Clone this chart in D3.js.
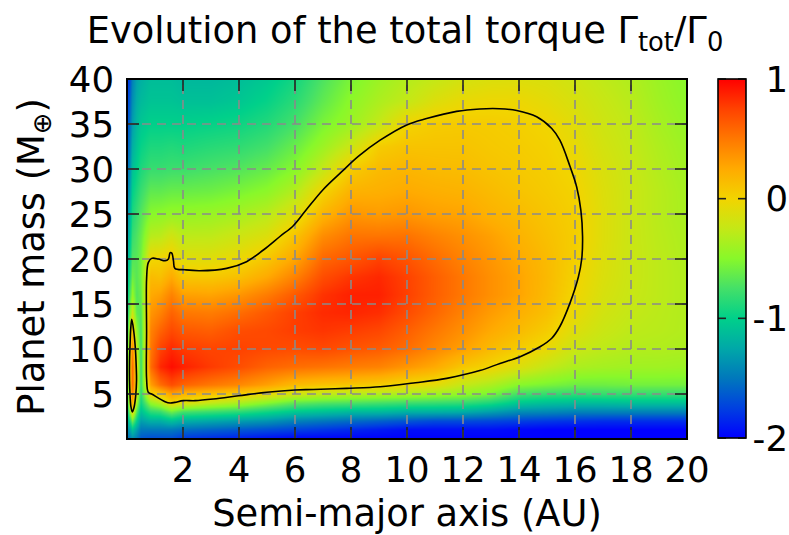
<!DOCTYPE html>
<html>
<head>
<meta charset="utf-8">
<script src="https://cdn.jsdelivr.net/npm/d3@7"></script>
<style>
  body { margin: 0; background: #fff; }
  svg { display: block; }
  text { font-family: "DejaVu Sans", sans-serif; fill: #000; }
</style>
</head>
<body>
<svg id="chart" width="789" height="535"></svg>
<script>
// Grid of semi-major axis values (AU) at which the torque is sampled
const semiMajorAxis = [0, 0.1, 0.2, 0.35, 0.5, 0.85, 1.2, 1.6, 2, 3, 4, 5, 6, 7, 8, 9, 10, 11, 12, 13, 14, 15, 16, 17, 18, 19, 20];
// Grid of planet masses (Earth masses)
const planetMass = [0, 1, 2, 3, 4, 5, 6, 8, 10, 12, 14, 16, 18, 20, 22.5, 25, 27.5, 30, 32.5, 35, 37.5, 40];
// Normalised total torque, one column per semi-major axis, ordered by planet mass
const torque = [
  [-1.6,-1.45,-1.3,-1.15,-1.05,-1.02,-1.0,-1.0,-1.0,-1.05,-1.1,-1.15,-1.22,-1.3,-1.4,-1.48,-1.55,-1.62,-1.7,-1.75,-1.8,-1.85],
  [-1.5,-1.3,-0.95,-0.55,-0.2,-0.05,0.0,0.02,-0.02,-0.25,-0.55,-0.75,-0.9,-1.0,-1.1,-1.2,-1.3,-1.4,-1.48,-1.55,-1.62,-1.7],
  [-1.4,-1.1,-0.6,-0.02,0.25,0.45,0.55,0.55,0.4,0.15,-0.2,-0.45,-0.6,-0.7,-0.8,-0.9,-1.0,-1.1,-1.2,-1.3,-1.38,-1.45],
  [-1.5,-1.3,-1.0,-0.7,-0.4,-0.2,-0.08,-0.08,-0.25,-0.45,-0.65,-0.7,-0.68,-0.68,-0.72,-0.8,-0.9,-1.0,-1.08,-1.15,-1.22,-1.28],
  [-1.65,-1.5,-1.3,-1.1,-0.95,-0.85,-0.8,-0.8,-0.78,-0.75,-0.7,-0.62,-0.58,-0.58,-0.62,-0.7,-0.8,-0.9,-0.98,-1.06,-1.14,-1.2],
  [-1.7,-1.5,-1.2,-0.85,-0.45,0.0,0.3,0.55,0.5,0.45,0.35,0.25,0.15,-0.02,-0.3,-0.5,-0.65,-0.8,-0.9,-1.0,-1.08,-1.12],
  [-1.7,-1.5,-1.2,-0.8,-0.3,0.1,0.55,0.85,0.75,0.6,0.45,0.3,0.12,0.0,-0.28,-0.48,-0.65,-0.8,-0.9,-1.0,-1.08,-1.12],
  [-1.7,-1.5,-1.1,-0.6,0.0,0.3,0.7,0.95,0.85,0.72,0.6,0.45,0.25,0.05,-0.18,-0.45,-0.62,-0.78,-0.88,-1.0,-1.08,-1.12],
  [-1.8,-1.55,-1.2,-0.75,-0.1,0.2,0.6,0.88,0.78,0.65,0.5,0.3,0.08,-0.1,-0.28,-0.45,-0.62,-0.78,-0.9,-1.0,-1.1,-1.15],
  [-1.85,-1.6,-1.25,-0.8,-0.25,0.12,0.5,0.78,0.74,0.62,0.48,0.28,0.07,-0.1,-0.27,-0.43,-0.6,-0.74,-0.86,-0.98,-1.1,-1.15],
  [-1.9,-1.65,-1.3,-0.85,-0.35,0.05,0.42,0.7,0.75,0.7,0.55,0.35,0.12,-0.04,-0.2,-0.38,-0.55,-0.7,-0.83,-0.95,-1.06,-1.12],
  [-1.95,-1.7,-1.35,-0.95,-0.5,-0.05,0.3,0.6,0.72,0.72,0.65,0.48,0.25,0.08,-0.12,-0.3,-0.48,-0.63,-0.76,-0.88,-0.98,-1.05],
  [-2.0,-1.75,-1.45,-1.05,-0.65,-0.18,0.15,0.55,0.7,0.77,0.76,0.64,0.45,0.27,0.1,-0.12,-0.32,-0.5,-0.62,-0.75,-0.85,-0.93],
  [-2.0,-1.8,-1.5,-1.1,-0.7,-0.25,0.1,0.52,0.72,0.8,0.84,0.81,0.7,0.58,0.4,0.18,0.0,-0.25,-0.42,-0.55,-0.65,-0.72],
  [-2.0,-1.85,-1.55,-1.15,-0.72,-0.3,0.08,0.48,0.67,0.77,0.86,0.88,0.8,0.66,0.52,0.35,0.2,0.05,-0.22,-0.42,-0.48,-0.55],
  [-2.0,-1.9,-1.6,-1.15,-0.75,-0.32,0.05,0.45,0.63,0.73,0.83,0.88,0.85,0.75,0.52,0.32,0.22,0.15,0.05,-0.25,-0.35,-0.42],
  [-2.0,-1.95,-1.65,-1.2,-0.78,-0.35,-0.03,0.35,0.55,0.62,0.71,0.76,0.75,0.67,0.53,0.35,0.25,0.18,0.1,0.0,-0.25,-0.32],
  [-2.0,-1.95,-1.7,-1.2,-0.8,-0.4,-0.08,0.25,0.42,0.5,0.58,0.62,0.62,0.56,0.45,0.3,0.22,0.15,0.1,0.05,-0.12,-0.25],
  [-2.0,-1.95,-1.7,-1.22,-0.82,-0.45,-0.25,0.08,0.3,0.38,0.45,0.5,0.5,0.45,0.38,0.28,0.2,0.14,0.1,0.06,-0.05,-0.17],
  [-2.0,-1.95,-1.72,-1.3,-0.9,-0.55,-0.35,0.0,0.15,0.25,0.32,0.38,0.38,0.35,0.3,0.2,0.15,0.1,0.07,0.05,-0.03,-0.13],
  [-2.0,-1.98,-1.75,-1.4,-1.05,-0.75,-0.5,-0.12,0.05,0.15,0.22,0.28,0.28,0.25,0.2,0.15,0.1,0.07,0.05,0.03,-0.03,-0.12],
  [-2.0,-2.0,-1.78,-1.42,-1.1,-0.8,-0.55,-0.25,-0.05,0.05,0.12,0.15,0.16,0.15,0.12,0.09,0.06,0.04,0.02,-0.01,-0.08,-0.14],
  [-2.0,-2.0,-1.8,-1.45,-1.12,-0.82,-0.6,-0.35,-0.22,-0.12,-0.05,-0.01,0.01,0.03,0.04,0.03,0.01,-0.02,-0.06,-0.1,-0.15,-0.2],
  [-2.0,-2.0,-1.82,-1.45,-1.12,-0.8,-0.6,-0.38,-0.28,-0.22,-0.18,-0.15,-0.13,-0.12,-0.11,-0.11,-0.12,-0.14,-0.17,-0.2,-0.23,-0.27],
  [-2.0,-2.0,-1.82,-1.45,-1.1,-0.8,-0.58,-0.4,-0.32,-0.28,-0.25,-0.23,-0.22,-0.22,-0.22,-0.22,-0.22,-0.23,-0.25,-0.27,-0.3,-0.33],
  [-2.0,-2.0,-1.82,-1.45,-1.1,-0.8,-0.58,-0.4,-0.33,-0.3,-0.29,-0.28,-0.28,-0.28,-0.29,-0.3,-0.3,-0.32,-0.34,-0.37,-0.4,-0.42],
  [-2.0,-2.0,-1.82,-1.45,-1.1,-0.8,-0.58,-0.42,-0.35,-0.33,-0.33,-0.33,-0.33,-0.34,-0.35,-0.37,-0.38,-0.4,-0.42,-0.45,-0.48,-0.5]
];
// Zero-torque contour (AU, Earth masses): main outward-migration zone
const zeroContourMain = [
  [0.76,5.2],[0.70,6.7],[0.70,12],[0.70,17.8],[0.76,19.6],[0.88,20.07],[1.12,20.0],[1.36,19.8],[1.48,20.0],
  [1.54,20.7],[1.6,20.65],[1.66,19.8],[1.71,18.96],[2.07,18.8],[2.6,18.7],[3.56,18.96],[4.27,19.7],[4.87,21.0],
  [5.46,22.5],[5.94,23.7],[6.36,25.3],[7.0,27.7],[7.67,29.7],[8.26,31.4],[9.04,33.2],[9.99,34.9],[10.7,35.6],
  [11.77,36.4],[12.6,36.67],[13.3,36.7],[13.92,36.5],[14.63,35.8],[15.17,34.5],[15.46,33.2],[15.82,30.3],
  [16.06,28.0],[16.21,25.4],[16.27,22.5],[16.24,20.0],[16.12,18.0],[15.82,15.1],[15.46,12.5],[15.17,11.2],
  [14.75,10.25],[14.04,9.15],[13.32,8.4],[12.6,7.6],[11.42,6.74],[10.3,6.25],[9.04,5.8],[7.85,5.63],[6.65,5.5],
  [6.0,5.45],[4.99,5.2],[3.98,4.8],[3.08,4.44],[2.43,4.26],[2.01,4.26],[1.71,4.07],[1.54,4.0],[1.36,4.15],[0.88,5.0]
];
// Zero-torque contour: small inner zone
const zeroContourInner = [
  [0.17,13.3],[0.24,12],[0.3,10],[0.33,8],[0.34,6.5],[0.31,4.8],[0.25,3.5],[0.19,3.0],
  [0.14,3.6],[0.11,4.8],[0.09,6.5],[0.09,8.6],[0.11,10.5],[0.13,12.1]
];
const xTickValues = [2, 4, 6, 8, 10, 12, 14, 16, 18, 20];
const yTickValues = [5, 10, 15, 20, 25, 30, 35, 40];
const colorTickValues = [1, 0, -1, -2];
// Palette
const paletteStops  = [-2, -1.75, -1.5, -1.25, -1, -0.75, -0.5, -0.25, 0, 0.25, 0.5, 0.75, 1];
const paletteColors = ["#0000ff", "#0040e0", "#0078bc", "#00a8a8", "#00d08a", "#44e068", "#88f82a", "#c4e816",
                       "#f2d400", "#ffaa00", "#ff7800", "#ff4200", "#ff0000"];

const svg = d3.select("#chart");
const M = { left: 127, right: 687, top: 79, bottom: 439 };
const x = d3.scaleLinear().domain([0, 20]).range([M.left, M.right]);
const y = d3.scaleLinear().domain([0, 40]).range([M.bottom, M.top]);
const color = d3.scaleLinear().domain(paletteStops).range(paletteColors)
  .interpolate(d3.interpolateRgb).clamp(true);

// ---- heat map rendered to a canvas with bilinear shading between grid nodes
const W = M.right - M.left, H = M.bottom - M.top;
const canvas = document.createElement("canvas");
canvas.width = W; canvas.height = H;
const ctx = canvas.getContext("2d");
const img = ctx.createImageData(W, H);
const ix = d3.scaleLinear().domain(semiMajorAxis).range(d3.range(semiMajorAxis.length)).clamp(true);
const iy = d3.scaleLinear().domain(planetMass).range(d3.range(planetMass.length)).clamp(true);
const lut = d3.range(1024).map(k => d3.rgb(color(-2 + 3 * k / 1023)));
const nx = semiMajorAxis.length, ny = planetMass.length;
for (let py = 0; py < H; py++) {
  const fy = iy(y.invert(M.top + py + 0.5));
  const j0 = Math.min(Math.floor(fy), ny - 2), ty = fy - j0;
  for (let px = 0; px < W; px++) {
    const fx = ix(x.invert(M.left + px + 0.5));
    const i0 = Math.min(Math.floor(fx), nx - 2), tx = fx - i0;
    const v = (1 - tx) * ((1 - ty) * torque[i0][j0] + ty * torque[i0][j0 + 1]) +
              tx * ((1 - ty) * torque[i0 + 1][j0] + ty * torque[i0 + 1][j0 + 1]);
    const k = Math.max(0, Math.min(1023, Math.round((v + 2) / 3 * 1023)));
    const c = lut[k], o = (py * W + px) * 4;
    img.data[o] = c.r; img.data[o + 1] = c.g; img.data[o + 2] = c.b; img.data[o + 3] = 255;
  }
}
ctx.putImageData(img, 0, 0);
svg.append("image").attr("x", M.left).attr("y", M.top).attr("width", W).attr("height", H)
  .attr("href", canvas.toDataURL());

// ---- grid
const grid = svg.append("g").attr("stroke", "#8a8a8a").attr("stroke-width", 1.6)
  .attr("stroke-dasharray", "9,6");
grid.selectAll(".gx").data(xTickValues.filter(d => d < 20)).join("line")
  .attr("x1", d => x(d)).attr("x2", d => x(d)).attr("y1", M.bottom).attr("y2", M.top);
grid.selectAll(".gy").data(yTickValues.filter(d => d < 40)).join("line")
  .attr("y1", d => y(d)).attr("y2", d => y(d)).attr("x1", M.left).attr("x2", M.right);

// ---- contours
svg.append("clipPath").attr("id", "plotclip").append("rect")
  .attr("x", M.left).attr("y", M.top).attr("width", W).attr("height", H);
const line = d3.line().x(d => x(d[0])).y(d => y(d[1])).curve(d3.curveCatmullRomClosed.alpha(0.5));
svg.append("g").attr("clip-path", "url(#plotclip)")
  .selectAll("path").data([zeroContourMain, zeroContourInner]).join("path")
  .attr("d", line).attr("fill", "none").attr("stroke", "#000").attr("stroke-width", 1.6);

// ---- axes (inward ticks on all four sides)
const tickLen = 12;
const axes = svg.append("g").attr("stroke", "#222").attr("stroke-width", 1.6);
[M.bottom, M.top].forEach((base, s) => {
  axes.append("g").selectAll("line").data(xTickValues.filter(d => d < 20)).join("line")
    .attr("x1", d => x(d)).attr("x2", d => x(d))
    .attr("y1", base).attr("y2", s === 0 ? base - tickLen : base + tickLen);
});
[M.left, M.right].forEach((base, s) => {
  axes.append("g").selectAll("line").data(yTickValues.filter(d => d < 40)).join("line")
    .attr("y1", d => y(d)).attr("y2", d => y(d))
    .attr("x1", base).attr("x2", s === 0 ? base + tickLen : base - tickLen);
});
svg.append("rect").attr("x", M.left).attr("y", M.top).attr("width", W).attr("height", H)
  .attr("fill", "none").attr("stroke", "#000").attr("stroke-width", 2);

const fs = 35.5, fl = 36.8;
svg.append("g").selectAll("text").data(xTickValues).join("text")
  .attr("x", d => x(d)).attr("y", 482).attr("text-anchor", "middle")
  .attr("font-size", fs).text(d => d);
svg.append("g").selectAll("text").data(yTickValues).join("text")
  .attr("x", 114).attr("y", d => y(d)).attr("dy", "0.36em").attr("text-anchor", "end")
  .attr("font-size", fs).text(d => d);

svg.append("text").attr("x", (M.left + M.right) / 2).attr("y", 526).attr("text-anchor", "middle")
  .attr("font-size", fl).text("Semi-major axis (AU)");

const yl = svg.append("text").attr("transform", `translate(44,${(M.top + M.bottom) / 2 - 2}) rotate(-90)`)
  .attr("text-anchor", "middle").attr("font-size", fl);
yl.append("tspan").text("Planet mass (M");
yl.append("tspan").attr("font-size", fl * 0.7).attr("dy", 7).text("\u2295");
yl.append("tspan").attr("dy", -7).text(")");

const title = svg.append("text").attr("x", (M.left + M.right) / 2 - 2).attr("y", 43)
  .attr("text-anchor", "middle").attr("font-size", fl);
title.append("tspan").text("Evolution of the total torque \u0393");
title.append("tspan").attr("font-size", fl * 0.7).attr("dy", 8).text("tot");
title.append("tspan").attr("dy", -8).text("/\u0393");
title.append("tspan").attr("font-size", fl * 0.7).attr("dy", 8).text("0");

// ---- colour box
const cb = { x: 718, w: 28 };
const cy = d3.scaleLinear().domain([-2, 1]).range([438, 79]);
const grad = svg.append("defs").append("linearGradient").attr("id", "cbgrad")
  .attr("x1", 0).attr("x2", 0).attr("y1", 1).attr("y2", 0);
grad.selectAll("stop").data(paletteStops).join("stop")
  .attr("offset", d => (d + 2) / 3).attr("stop-color", d => color(d));
svg.append("rect").attr("x", cb.x).attr("y", cy(1)).attr("width", cb.w).attr("height", cy(-2) - cy(1))
  .attr("fill", "url(#cbgrad)");
const cbt = svg.append("g").attr("stroke", "#222").attr("stroke-width", 1.6);
cbt.selectAll(".l").data(colorTickValues).join("line")
  .attr("x1", cb.x).attr("x2", cb.x + 8).attr("y1", d => cy(d)).attr("y2", d => cy(d));
cbt.selectAll(".r").data(colorTickValues).join("line").attr("class", "r")
  .attr("x1", cb.x + cb.w - 8).attr("x2", cb.x + cb.w).attr("y1", d => cy(d)).attr("y2", d => cy(d));
svg.append("rect").attr("x", cb.x).attr("y", cy(1)).attr("width", cb.w).attr("height", cy(-2) - cy(1))
  .attr("fill", "none").attr("stroke", "#000").attr("stroke-width", 1.6);
svg.append("g").selectAll("text").data(colorTickValues).join("text")
  .attr("x", 788).attr("y", d => cy(d)).attr("dy", "0.36em").attr("text-anchor", "end")
  .attr("font-size", fs).text(d => d);
</script>
</body>
</html>
